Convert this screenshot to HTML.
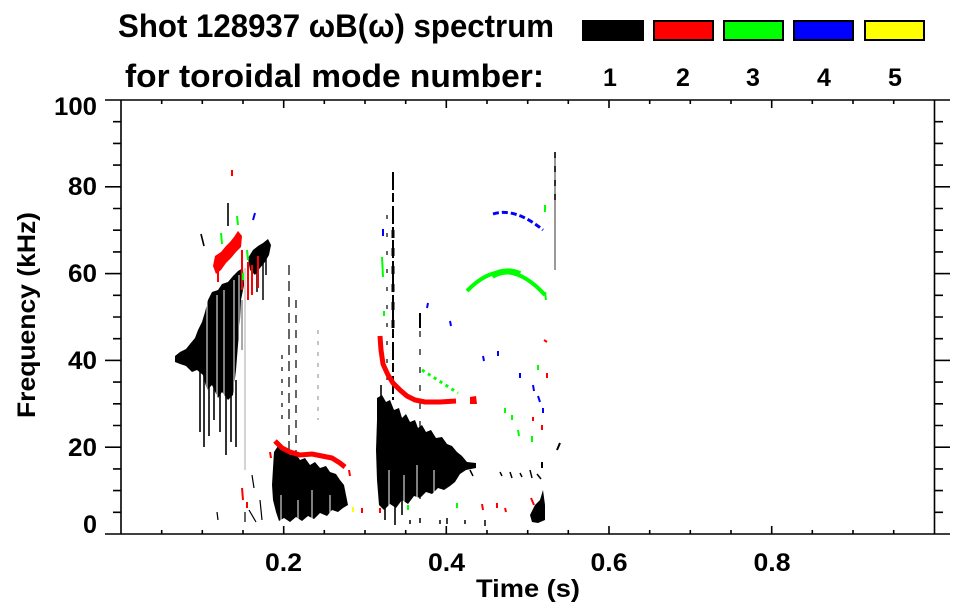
<!DOCTYPE html>
<html>
<head>
<meta charset="utf-8">
<style>
html,body{margin:0;padding:0;background:#fff;}
body{width:963px;height:615px;overflow:hidden;}
svg{display:block;}
text{font-family:"Liberation Sans",Arial,sans-serif;font-weight:bold;fill:#000;}
</style>
</head>
<body>
<svg width="963" height="615" viewBox="0 0 963 615" xmlns="http://www.w3.org/2000/svg">
<rect x="0" y="0" width="963" height="615" fill="#fff"/>

<!-- Title -->
<text x="118" y="37" font-size="32" textLength="436" lengthAdjust="spacingAndGlyphs">Shot 128937 ωB(ω) spectrum</text>
<text x="125" y="87" font-size="32" textLength="419" lengthAdjust="spacingAndGlyphs">for toroidal mode number:</text>

<!-- Legend -->
<rect x="583" y="21" width="60" height="19" fill="#000" stroke="#000" stroke-width="2"/>
<rect x="654" y="21" width="59" height="19" fill="#f00" stroke="#000" stroke-width="2"/>
<rect x="724" y="21" width="59" height="19" fill="#0f0" stroke="#000" stroke-width="2"/>
<rect x="794" y="21" width="59" height="19" fill="#00f" stroke="#000" stroke-width="2"/>
<rect x="865" y="21" width="59" height="19" fill="#ff0" stroke="#000" stroke-width="2"/>
<g font-size="25" text-anchor="middle">
<text x="610" y="86">1</text>
<text x="683" y="86">2</text>
<text x="753" y="86">3</text>
<text x="824" y="86">4</text>
<text x="895" y="86">5</text>
</g>

<!-- DATA -->
<g>
<!-- Region 1 black mass -->
<path d="M175,356 L180,352 186,349 190,344 195,338 198,330 202,322 205,312 208,300 212,292 218,290 222,284 228,282 233,276 238,271 243,268 244,285 241,300 240,320 238,345 236,370 233,395 228,400 222,392 218,398 212,385 207,390 203,375 197,370 192,372 186,366 180,364 175,362 Z" fill="#000"/>
<g stroke="#fff" stroke-width="1">
<line x1="207" y1="300" x2="207" y2="400"/>
<line x1="217" y1="295" x2="217" y2="400"/>
<line x1="224" y1="290" x2="224" y2="400"/>
<line x1="234" y1="280" x2="234" y2="400"/>
<line x1="239" y1="275" x2="239" y2="400"/>
</g>
<g stroke="#000" stroke-width="1.6">
<line x1="200" y1="355" x2="200" y2="432"/>
<line x1="204" y1="330" x2="204" y2="447"/>
<line x1="209" y1="340" x2="209" y2="436"/>
<line x1="214" y1="360" x2="214" y2="420"/>
<line x1="220" y1="350" x2="220" y2="432"/>
<line x1="226" y1="370" x2="226" y2="455"/>
<line x1="231" y1="360" x2="231" y2="442"/>
<line x1="236" y1="380" x2="236" y2="447"/>
<line x1="228" y1="203" x2="228" y2="226"/>
<line x1="201" y1="234" x2="204" y2="246"/>
</g>
<line x1="245" y1="268" x2="245" y2="470" stroke="#aaa" stroke-width="1"/>
<line x1="242" y1="300" x2="242" y2="350" stroke="#555" stroke-width="1"/>
<!-- region1 upper right black -->
<path d="M248,258 L253,250 258,246 263,243 268,239 271,245 269,255 265,262 260,268 255,275 250,270 Z" fill="#000"/>
<g stroke="#000" stroke-width="1.5">
<line x1="257" y1="260" x2="257" y2="292"/>
<line x1="263" y1="255" x2="263" y2="300"/>
<line x1="266" y1="246" x2="266" y2="275"/>
</g>
<!-- Region 1 red -->
<path d="M213,266 L215,256 221,252 226,246 230,242 234,237 238,231 242,236 241,247 236,252 231,258 226,263 221,270 216,274 Z" fill="#f00"/>
<g stroke="#f00" stroke-width="2">
<line x1="242" y1="250" x2="242" y2="290"/>
<line x1="248" y1="262" x2="248" y2="300"/>
<line x1="252" y1="265" x2="252" y2="295"/>
<line x1="258" y1="256" x2="258" y2="288"/>
<line x1="218" y1="268" x2="218" y2="282"/>
<line x1="232" y1="170" x2="232" y2="176"/>
<line x1="242" y1="488" x2="243" y2="500"/>
<line x1="247" y1="502" x2="247" y2="508"/>
<line x1="270" y1="452" x2="271" y2="458"/>
</g>
<g stroke="#0f0" stroke-width="2">
<line x1="221" y1="233" x2="222" y2="244"/>
<line x1="237" y1="216" x2="238" y2="225"/>
<line x1="247" y1="250" x2="248" y2="260"/>
<line x1="243" y1="273" x2="243" y2="280"/>
</g>
<line x1="255" y1="213" x2="253" y2="220" stroke="#00f" stroke-width="2"/>

<!-- Region 2 black -->
<g stroke="#000" stroke-width="1.2">
<line x1="289" y1="265" x2="289" y2="455" stroke-dasharray="10,6"/>
<line x1="296" y1="300" x2="296" y2="455" stroke-dasharray="8,7"/>
<line x1="282" y1="355" x2="282" y2="420" stroke-dasharray="4,8"/>
<line x1="318" y1="330" x2="318" y2="420" stroke="#888" stroke-width="1" stroke-dasharray="4,7"/>
<line x1="252" y1="475" x2="254" y2="488"/>
<line x1="249" y1="510" x2="256" y2="522"/>
<line x1="260" y1="500" x2="262" y2="520"/>
<line x1="245" y1="512" x2="245" y2="522"/>
<line x1="217" y1="512" x2="218" y2="520"/>
</g>
<path d="M274,452 L278,446 282,450 286,448 290,455 295,452 300,460 305,458 310,465 315,462 320,468 326,466 330,472 336,474 340,480 344,485 346,495 348,505 343,508 338,512 332,510 327,516 320,513 314,519 308,516 302,521 296,517 290,522 284,518 279,521 276,512 273,500 272,485 273,468 Z" fill="#000"/>
<g stroke="#fff" stroke-width="1">
<line x1="281" y1="495" x2="281" y2="522"/>
<line x1="298" y1="500" x2="298" y2="522"/>
<line x1="312" y1="490" x2="312" y2="522"/>
<line x1="330" y1="495" x2="330" y2="520"/>
</g>
<polyline points="275,441 282,448 290,452 300,455 312,454 322,456 332,458 340,463 345,467" fill="none" stroke="#f00" stroke-width="5"/>
<line x1="353" y1="507" x2="353" y2="512" stroke="#ff0" stroke-width="2"/>
<line x1="349" y1="470" x2="350" y2="476" stroke="#f00" stroke-width="2"/>

<!-- Region 3 -->
<line x1="393" y1="172" x2="393" y2="400" stroke="#000" stroke-width="2" stroke-dasharray="18,3,9,4"/>
<line x1="393" y1="230" x2="393" y2="330" stroke="#000" stroke-width="3" stroke-dasharray="8,10"/>
<line x1="387" y1="215" x2="387" y2="380" stroke="#000" stroke-width="1.2" stroke-dasharray="4,14"/>
<line x1="420" y1="313" x2="420" y2="505" stroke="#000" stroke-width="1.2" stroke-dasharray="6,12"/>
<path d="M377,398 L382,395 386,402 390,400 394,410 399,408 402,418 406,414 410,422 415,420 418,428 422,425 426,432 431,430 436,438 442,437 447,444 452,446 457,452 462,456 467,462 476,463 476,468 466,470 460,474 455,482 450,486 444,490 438,488 432,494 426,492 420,498 414,496 408,504 402,500 396,508 390,504 384,510 379,505 377,480 376,450 377,420 Z" fill="#000"/>
<g stroke="#fff" stroke-width="1">
<line x1="389" y1="470" x2="389" y2="510"/>
<line x1="404" y1="475" x2="404" y2="505"/>
<line x1="417" y1="465" x2="417" y2="500"/>
<line x1="434" y1="470" x2="434" y2="495"/>
</g>
<g stroke="#000" stroke-width="1.6">
<line x1="385" y1="500" x2="385" y2="520"/>
<line x1="395" y1="500" x2="395" y2="525"/>
<line x1="402" y1="500" x2="402" y2="515"/>
<line x1="381" y1="385" x2="381" y2="400"/>
</g>
<polyline points="380,336 381,350 383,364 388,375 393,383 400,390 407,396 415,400 425,402 440,402 456,401" fill="none" stroke="#f00" stroke-width="5"/>
<path d="M470,397 L476,396 477,404 470,404 Z" fill="#f00"/>
<line x1="422" y1="370" x2="458" y2="393" stroke="#0f0" stroke-width="3" stroke-dasharray="3,4"/>
<path d="M467,291 Q505,251 545,295" fill="none" stroke="#0f0" stroke-width="4"/>
<path d="M492,276 Q505,268 520,274" fill="none" stroke="#0f0" stroke-width="6"/>
<line x1="545" y1="292" x2="546" y2="300" stroke="#0f0" stroke-width="2"/>
<path d="M493,214 Q515,207 543,230" fill="none" stroke="#00f" stroke-width="3" stroke-dasharray="6,3"/>
<line x1="555" y1="152" x2="555" y2="270" stroke="#777" stroke-width="1.5"/>
<line x1="555" y1="152" x2="555" y2="200" stroke="#000" stroke-width="1.5" stroke-dasharray="6,8"/>
<line x1="545" y1="205" x2="545" y2="212" stroke="#0f0" stroke-width="2"/>
<path d="M530,515 L535,505 540,500 543,490 545,505 545,520 538,523 532,522 Z" fill="#000"/>
<g stroke-width="2">
<line x1="383" y1="229" x2="383" y2="236" stroke="#00f"/>
<line x1="382" y1="257" x2="383" y2="277" stroke="#0f0"/>
<line x1="384" y1="311" x2="384" y2="316" stroke="#0f0"/>
<line x1="420" y1="313" x2="420" y2="328" stroke="#000"/>
<line x1="428" y1="303" x2="427" y2="308" stroke="#00f"/>
<line x1="450" y1="321" x2="451" y2="326" stroke="#00f"/>
<line x1="544" y1="340" x2="547" y2="342" stroke="#f00"/>
<line x1="483" y1="356" x2="484" y2="361" stroke="#00f"/>
<line x1="498" y1="351" x2="498" y2="356" stroke="#00f"/>
<line x1="538" y1="365" x2="538" y2="370" stroke="#0f0"/>
<line x1="520" y1="373" x2="520" y2="378" stroke="#00f"/>
<line x1="547" y1="373" x2="547" y2="378" stroke="#f00"/>
<line x1="533" y1="385" x2="534" y2="391" stroke="#00f"/>
<line x1="538" y1="396" x2="540" y2="402" stroke="#00f"/>
<line x1="543" y1="408" x2="543" y2="413" stroke="#00f"/>
<line x1="505" y1="408" x2="505" y2="413" stroke="#0f0"/>
<line x1="512" y1="415" x2="512" y2="420" stroke="#0f0"/>
<line x1="518" y1="430" x2="519" y2="436" stroke="#0f0"/>
<line x1="532" y1="436" x2="532" y2="442" stroke="#0f0"/>
<line x1="533" y1="417" x2="533" y2="421" stroke="#f00"/>
<line x1="542" y1="425" x2="542" y2="430" stroke="#f00"/>
<line x1="557" y1="450" x2="560" y2="443" stroke="#000"/>
<line x1="542" y1="462" x2="542" y2="468" stroke="#000"/>
<line x1="408" y1="505" x2="408" y2="510" stroke="#0f0"/>
<line x1="457" y1="503" x2="457" y2="508" stroke="#0f0"/>
<line x1="482" y1="504" x2="483" y2="510" stroke="#f00"/>
<line x1="497" y1="503" x2="497" y2="508" stroke="#f00"/>
<line x1="505" y1="508" x2="506" y2="512" stroke="#f00"/>
<line x1="362" y1="508" x2="362" y2="513" stroke="#f00"/>
<line x1="380" y1="508" x2="380" y2="513" stroke="#f00"/>
<line x1="531" y1="498" x2="534" y2="505" stroke="#f00"/>
</g>
<g stroke="#000" stroke-width="1.5">
<line x1="500" y1="472" x2="502" y2="476"/>
<line x1="510" y1="472" x2="512" y2="478"/>
<line x1="520" y1="473" x2="522" y2="477"/>
<line x1="530" y1="470" x2="532" y2="478"/>
<line x1="537" y1="474" x2="541" y2="479"/>
<line x1="470" y1="470" x2="473" y2="476"/>
<line x1="410" y1="520" x2="410" y2="524"/>
<line x1="420" y1="518" x2="420" y2="523"/>
<line x1="440" y1="520" x2="440" y2="524"/>
<line x1="447" y1="518" x2="447" y2="524"/>
<line x1="465" y1="520" x2="465" y2="524"/>
<line x1="485" y1="520" x2="485" y2="526"/>
</g>
</g>

<!-- Axes frame -->
<g stroke="#000" stroke-width="1.6" fill="none">
<line x1="121" y1="100" x2="121" y2="534"/>
<line x1="934.5" y1="100" x2="934.5" y2="534"/>
<line x1="105" y1="100" x2="950" y2="100"/>
<line x1="105" y1="534" x2="950" y2="534"/>
<line x1="105" y1="186.8" x2="121" y2="186.8"/>
<line x1="105" y1="273.6" x2="121" y2="273.6"/>
<line x1="105" y1="360.4" x2="121" y2="360.4"/>
<line x1="105" y1="447.2" x2="121" y2="447.2"/>
<line x1="934.5" y1="186.8" x2="950" y2="186.8"/>
<line x1="934.5" y1="273.6" x2="950" y2="273.6"/>
<line x1="934.5" y1="360.4" x2="950" y2="360.4"/>
<line x1="934.5" y1="447.2" x2="950" y2="447.2"/>
<path d="M113,121.7H121M113,143.4H121M113,165.1H121M113,208.5H121M113,230.2H121M113,251.9H121M113,295.3H121M113,317H121M113,338.7H121M113,382.1H121M113,403.8H121M113,425.5H121M113,468.9H121M113,490.6H121M113,512.3H121"/>
<path d="M934.5,121.7H943M934.5,143.4H943M934.5,165.1H943M934.5,208.5H943M934.5,230.2H943M934.5,251.9H943M934.5,295.3H943M934.5,317H943M934.5,338.7H943M934.5,382.1H943M934.5,403.8H943M934.5,425.5H943M934.5,468.9H943M934.5,490.6H943M934.5,512.3H943"/>
<path d="M161.7,534V530M202.3,534V530M243,534V530M283.7,534V526M324.3,534V530M365,534V530M405.7,534V530M446.3,534V526M487,534V530M527.7,534V530M568.3,534V530M609,534V526M649.7,534V530M690.3,534V530M731,534V530M771.7,534V526M812.3,534V530M853,534V530M893.7,534V530"/>
<path d="M161.7,100V104M202.3,100V104M243,100V104M283.7,100V108M324.3,100V104M365,100V104M405.7,100V104M446.3,100V108M487,100V104M527.7,100V104M568.3,100V104M609,100V108M649.7,100V104M690.3,100V104M731,100V104M771.7,100V108M812.3,100V104M853,100V104M893.7,100V104"/>
</g>

<!-- Y tick labels -->
<g font-size="25" text-anchor="end">
<text x="97" y="115" textLength="43" lengthAdjust="spacingAndGlyphs">100</text>
<text x="97" y="195" textLength="29" lengthAdjust="spacingAndGlyphs">80</text>
<text x="97" y="282" textLength="29" lengthAdjust="spacingAndGlyphs">60</text>
<text x="97" y="369" textLength="29" lengthAdjust="spacingAndGlyphs">40</text>
<text x="97" y="456" textLength="29" lengthAdjust="spacingAndGlyphs">20</text>
<text x="97" y="533" textLength="14" lengthAdjust="spacingAndGlyphs">0</text>
</g>
<!-- X tick labels -->
<g font-size="25" text-anchor="middle">
<text x="283.5" y="571" textLength="37" lengthAdjust="spacingAndGlyphs">0.2</text>
<text x="446.5" y="571" textLength="37" lengthAdjust="spacingAndGlyphs">0.4</text>
<text x="609" y="571" textLength="37" lengthAdjust="spacingAndGlyphs">0.6</text>
<text x="772" y="571" textLength="37" lengthAdjust="spacingAndGlyphs">0.8</text>
</g>
<!-- Axis titles -->
<text x="528" y="597" font-size="25" text-anchor="middle" textLength="104" lengthAdjust="spacingAndGlyphs">Time (s)</text>
<text transform="translate(35,315) rotate(-90)" font-size="25" text-anchor="middle" textLength="206" lengthAdjust="spacingAndGlyphs">Frequency (kHz)</text>
</svg>
</body>
</html>
